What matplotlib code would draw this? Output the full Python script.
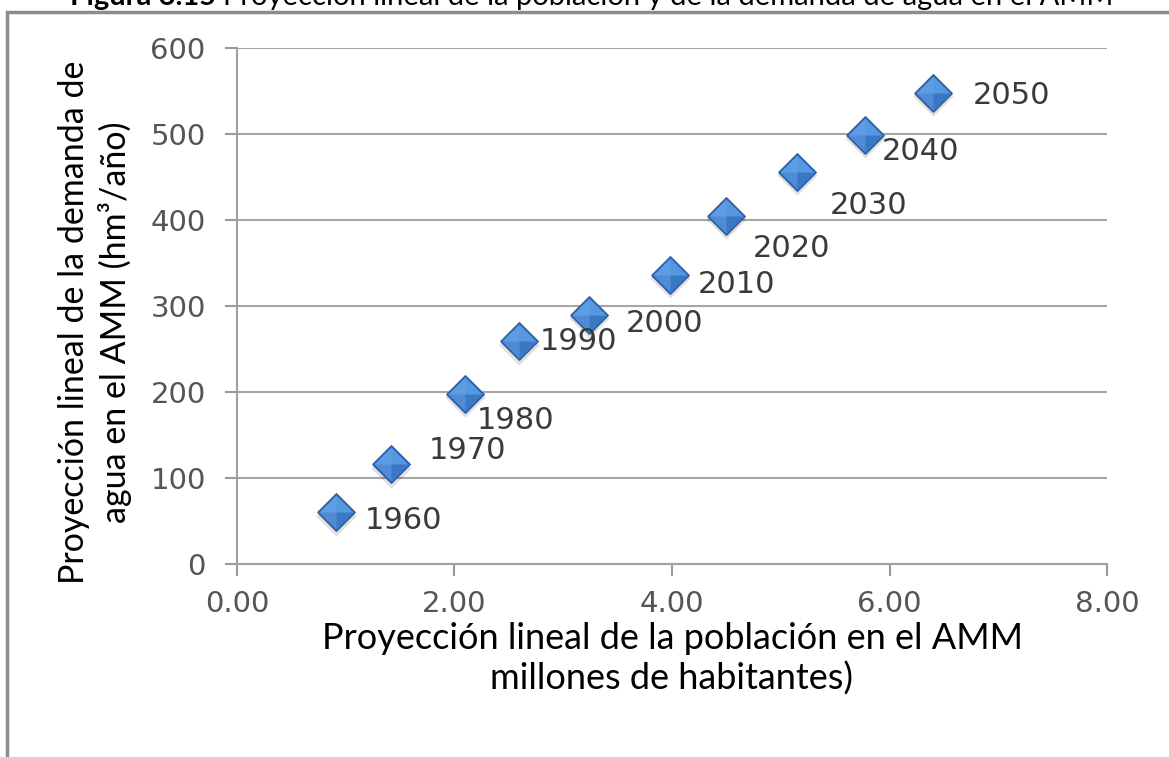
import matplotlib
matplotlib.use("Agg")
import matplotlib.pyplot as plt
from matplotlib.path import Path
from matplotlib.patches import Rectangle

# Población proyectada (millones) y demanda de agua (hm3/año) por década
years = ["1960", "1970", "1980", "1990", "2000", "2010", "2020", "2030", "2040", "2050"]
poblacion = [0.91, 1.42, 2.10, 2.59, 3.24, 3.98, 4.50, 5.15, 5.77, 6.40]
demanda = [60, 116, 198, 259, 290, 336, 405, 456, 499, 548]

x_ticks = [0, 2, 4, 6, 8]
y_ticks = [0, 100, 200, 300, 400, 500, 600]

# desplazamiento (px) de cada etiqueta respecto a su punto
label_offsets = [(29, -8), (37, 14), (11, -27), (21, 0), (36, -9),
                 (28, -9), (26, -33), (33, -34), (17, -17), (40, -3)]

fig = plt.figure(figsize=(11.69, 7.57), dpi=100)
ax = fig.add_axes([0.2027, 0.255, 0.7443, 0.6816])

# marco gris que rodea el gráfico
fig.patches.append(Rectangle((7 / 1169, -0.1), 1.2, 1 - 12 / 757 + 0.1,
                             transform=fig.transFigure, fill=False,
                             edgecolor="#8c8c8c", linewidth=2.5))

# título (queda cortado por el borde superior)
fig.text(216 / 1169, 1 - 5 / 757, "Figura 6.15", ha="right", va="baseline",
         fontsize=21, fontweight="bold", family="Lato")
fig.text(223 / 1169, 1 - 5 / 757,
         "Proyección lineal de la población y de la demanda de agua en el AMM",
         ha="left", va="baseline", fontsize=21, family="Lato")

# rombos con sombra y bisel
diamond = Path([(-1, 0), (0, 1), (1, 0), (0, -1), (-1, 0)])
upper = Path([(-1, 0), (0, 1), (1, 0), (-1, 0)])
left = Path([(-1, 0), (0, 1), (0, -1), (-1, 0)])
ms = 27
ax.plot(poblacion, [d - 4 for d in demanda], ls="none", marker=diamond,
        markersize=ms + 2, color="#000000", alpha=0.12, mew=0, zorder=3)
ax.plot(poblacion, demanda, ls="none", marker=diamond, markersize=ms,
        markerfacecolor="#3a78c6", markeredgecolor="#2b5e9e", mew=1.0, zorder=4)
ax.plot(poblacion, demanda, ls="none", marker=upper, markersize=ms - 3,
        markerfacecolor="#5597e0", mew=0, zorder=5)
ax.plot(poblacion, demanda, ls="none", marker=left, markersize=ms - 3,
        markerfacecolor="#6aa6e8", mew=0, alpha=0.45, zorder=5)

for yr, px, py, (dx, dy) in zip(years, poblacion, demanda, label_offsets):
    ax.annotate(yr, (px, py), xytext=(dx, dy), textcoords="offset pixels",
                ha="left", va="center", fontsize=22, color="#3a3a3a",
                family="DejaVu Sans", zorder=6)

ax.set_xlim(0, 8)
ax.set_ylim(0, 600)
ax.set_xticks(x_ticks)
ax.set_yticks(y_ticks)
ax.set_xticklabels([f"{v:.2f}" for v in x_ticks])
ax.set_yticklabels([str(v) for v in y_ticks])
ax.tick_params(axis="both", direction="out", length=8.5, width=1.5,
               color="#9a9a9a", labelsize=21, labelcolor="#555555")
ax.tick_params(axis="y", pad=14)
ax.tick_params(axis="x", pad=10)
ax.yaxis.grid(True, color="#a6a6a6", linewidth=1.5)
ax.set_axisbelow(True)
for side in ["top", "right"]:
    ax.spines[side].set_visible(False)
for side in ["left", "bottom"]:
    ax.spines[side].set_color("#a0a0a0")
    ax.spines[side].set_linewidth(1.5)

fig.text(672 / 1169, 1 - 659 / 757,
         "Proyección lineal de la población en el AMM\nmillones de habitantes)",
         ha="center", va="center", fontsize=26, family="Lato",
         linespacing=1.25)
fig.text(95 / 1169, 1 - 322 / 757,
         "Proyección lineal de la demanda de\nagua en el AMM (hm³/año)",
         ha="center", va="center", rotation=90, fontsize=24.5, family="Lato",
         linespacing=1.3)

fig.savefig("out.png", dpi=100)
